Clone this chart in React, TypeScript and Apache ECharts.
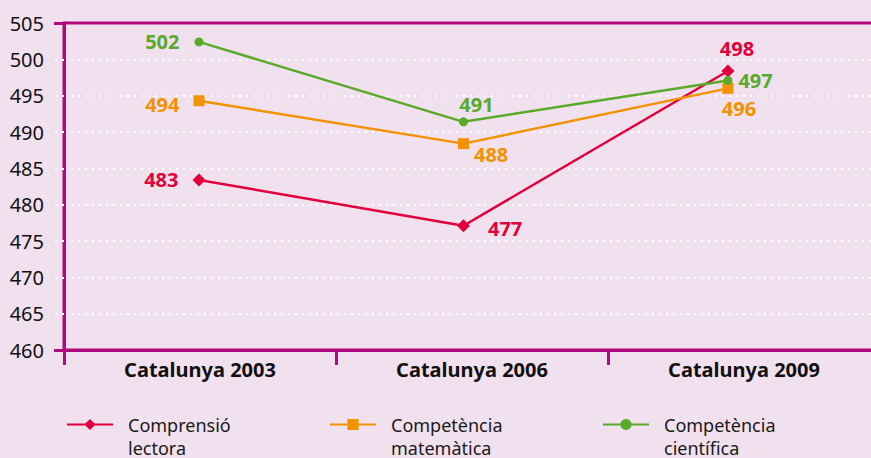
import React, { useEffect, useRef } from "react";
import * as echarts from "echarts";

const categories = ["Catalunya 2003", "Catalunya 2006", "Catalunya 2009"];
const seriesNames = ["Comprensió lectora", "Competència matemàtica", "Competència científica"];
const lectora = [483.4, 477.1, 498.4];
const matematica = [494.3, 488.4, 496.0];
const cientifica = [502.4, 491.4, 497.1];
const yTicks = { min: 460, max: 505, interval: 5 };

const RED = "#e2003b";
const ORANGE = "#f39200";
const GREEN = "#5aaa2a";
const MAGENTA = "#b0087e";
const BG = "#f1e0ee";
const FONT = "Noto Sans";

type LabelSpec = { position: any; distance: number; offset?: number[] };

const lectoraLabels: LabelSpec[] = [
  { position: "left", distance: 14 },
  { position: "right", distance: 18, offset: [0, 3] },
  { position: "top", distance: 6, offset: [9, 0] },
];
const matematicaLabels: LabelSpec[] = [
  { position: "left", distance: 14, offset: [0, 4] },
  { position: "right", distance: 5, offset: [0, 11] },
  { position: "bottom", distance: 5, offset: [11, 0] },
];
const cientificaLabels: LabelSpec[] = [
  { position: "left", distance: 15 },
  { position: "top", distance: 3, offset: [13, 0] },
  { position: "right", distance: 6 },
];

function buildSeries(name: string, values: number[], labels: LabelSpec[], color: string, symbol: string, size: number) {
  return {
    name,
    type: "line",
    xAxisIndex: 1,
    yAxisIndex: 0,
    symbol,
    symbolSize: size,
    showAllSymbol: true,
    color,
    lineStyle: { color, width: 2.5 },
    itemStyle: { color },
    z: 5,
    data: values.map((v, i) => ({
      value: [i, v],
      label: {
        show: true,
        position: labels[i].position,
        distance: labels[i].distance,
        offset: labels[i].offset || [0, 0],
        color,
        fontFamily: FONT,
        fontWeight: "bold",
        fontSize: 20,
        formatter: () => String(Math.round(v)),
      },
    })),
  };
}

function legendFor(name: string, left: number) {
  return {
    data: [name],
    left,
    top: 390,
    padding: 0,
    itemWidth: 46,
    itemHeight: 14,
    formatter: (n: string) => " \n" + n.replace(" ", "\n"),
    textStyle: {
      fontFamily: FONT,
      fontSize: 18,
      lineHeight: 23,
      color: "#1a1a1a",
      padding: [0, 0, 0, 10],
    },
  };
}

export default function App() {
  const ref = useRef<HTMLDivElement>(null);
  useEffect(() => {
    if (!ref.current) return;
    const chart = echarts.init(ref.current, undefined, { renderer: "svg" });
    const dotted = { color: "#ffffff", width: 2, type: [2, 5] as number[] };
    chart.setOption({
      animation: false,
      backgroundColor: BG,
      textStyle: { fontFamily: FONT },
      grid: {
        left: 64,
        right: 0,
        top: 23,
        bottom: 108,
        show: true,
        borderColor: MAGENTA,
        borderWidth: 3,
        backgroundColor: "transparent",
      },
      legend: [
        legendFor(seriesNames[0], 66),
        legendFor(seriesNames[1], 329),
        legendFor(seriesNames[2], 602),
      ],
      xAxis: [
        {
          type: "category",
          data: categories,
          boundaryGap: true,
          axisLine: { onZero: false, lineStyle: { color: MAGENTA, width: 3 } },
          axisTick: { show: true, length: 15, lineStyle: { color: MAGENTA, width: 3 } },
          axisLabel: {
            color: "#111111",
            fontFamily: FONT,
            fontWeight: "bold",
            fontSize: 20,
            margin: 9,
          },
          splitLine: { show: false },
          z: 3,
        },
        {
          type: "value",
          position: "top",
          min: -0.5104,
          max: 2.575,
          show: false,
          axisLine: { onZero: false },
        },
      ],
      yAxis: [
        {
          type: "value",
          min: yTicks.min,
          max: yTicks.max,
          interval: yTicks.interval,
          axisLine: { show: true, onZero: false, lineStyle: { color: MAGENTA, width: 3 } },
          axisTick: { show: true, length: 10, lineStyle: dotted },
          axisLabel: { color: "#111111", fontFamily: FONT, fontSize: 20, margin: 20 },
          splitLine: { show: true, showMinLine: false, showMaxLine: false, lineStyle: dotted },
          z: 3,
        },
        {
          type: "value",
          position: "left",
          min: yTicks.min,
          max: yTicks.max,
          interval: yTicks.max - yTicks.min,
          axisLine: { show: false, onZero: false },
          axisTick: { show: true, length: 10, lineStyle: { color: MAGENTA, width: 3 } },
          axisLabel: { show: false },
          splitLine: { show: false },
          z: 4,
        },
      ],
      series: [
        buildSeries(seriesNames[0], lectora, lectoraLabels, RED, "diamond", 13),
        buildSeries(seriesNames[1], matematica, matematicaLabels, ORANGE, "rect", 11),
        buildSeries(seriesNames[2], cientifica, cientificaLabels, GREEN, "circle", 9),
      ],
    });
    return () => chart.dispose();
  }, []);
  return (
    <div
      ref={ref}
      style={{ position: "fixed", left: 0, top: 0, width: 880, height: 458, background: BG }}
    />
  );
}
